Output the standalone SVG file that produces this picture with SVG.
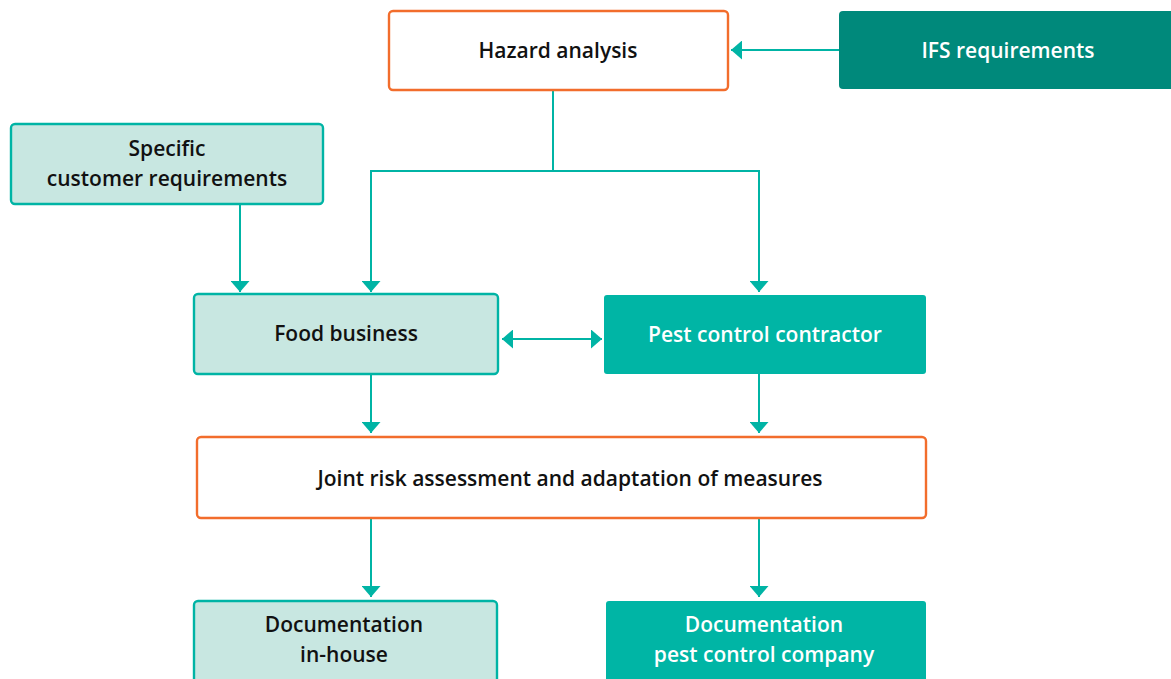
<svg xmlns="http://www.w3.org/2000/svg" width="1171" height="679" viewBox="0 0 1171 679">
<style>
.t{font-family:"Open Sans","Noto Sans",sans-serif;font-weight:600;font-size:21px;text-anchor:middle;fill:#111}
.w{fill:#fff}
.or{fill:#fff;stroke:#f26d2c;stroke-width:2.4}
.lt{fill:#c8e7e1;stroke:#00b4a5;stroke-width:2.4}
.dk{fill:#00b5a5}
.ifs{fill:#00897b}
.c{fill:none;stroke:#00b4a5;stroke-width:2}
</style>
<defs>
<marker id="ah" viewBox="0 0 11 19" refX="11" refY="9.5" markerWidth="11" markerHeight="19" markerUnits="userSpaceOnUse" orient="auto-start-reverse">
<path d="M0,0 L11,9.5 L0,19 Z" fill="#00b4a5"/>
</marker>
</defs>
<g id="connectors">
<path class="c" d="M839,50 H731" marker-end="url(#ah)"/>
<path class="c" d="M553,90 V171 H371 V292" marker-end="url(#ah)"/>
<path class="c" d="M553,171 H759 V292" marker-end="url(#ah)"/>
<path class="c" d="M240,204 V292" marker-end="url(#ah)"/>
<path class="c" d="M502,339 H602" marker-start="url(#ah)" marker-end="url(#ah)"/>
<path class="c" d="M371,375 V433" marker-end="url(#ah)"/>
<path class="c" d="M759,374 V433" marker-end="url(#ah)"/>
<path class="c" d="M371,518 V597" marker-end="url(#ah)"/>
<path class="c" d="M759,518 V597" marker-end="url(#ah)"/>
</g>
<g id="hazard">
<rect class="or" x="389" y="11" width="339" height="79" rx="4"/>
<text class="t" x="558" y="58">Hazard analysis</text>
</g>
<g id="ifs">
<rect class="ifs" x="839" y="11" width="345" height="78" rx="4"/>
<text class="t w" x="1008" y="58">IFS requirements</text>
</g>
<g id="customer">
<rect class="lt" x="11" y="124" width="312" height="80" rx="4"/>
<text class="t" x="167" y="156">Specific</text>
<text class="t" x="167" y="186">customer requirements</text>
</g>
<g id="food">
<rect class="lt" x="194" y="294" width="304" height="80" rx="4"/>
<text class="t" x="346" y="341">Food business</text>
</g>
<g id="pest">
<rect class="dk" x="604" y="295" width="322" height="79" rx="3"/>
<text class="t w" x="765" y="342">Pest control contractor</text>
</g>
<g id="joint">
<rect class="or" x="197" y="437" width="729" height="81" rx="4"/>
<text class="t" x="570" y="486">Joint risk assessment and adaptation of measures</text>
</g>
<g id="doc-inhouse">
<rect class="lt" x="194" y="601" width="303" height="90" rx="4"/>
<text class="t" x="344" y="632">Documentation</text>
<text class="t" x="344" y="662">in-house</text>
</g>
<g id="doc-pest">
<rect class="dk" x="606" y="601" width="320" height="90" rx="3"/>
<text class="t w" x="764" y="632">Documentation</text>
<text class="t w" x="764" y="662">pest control company</text>
</g>
</svg>
